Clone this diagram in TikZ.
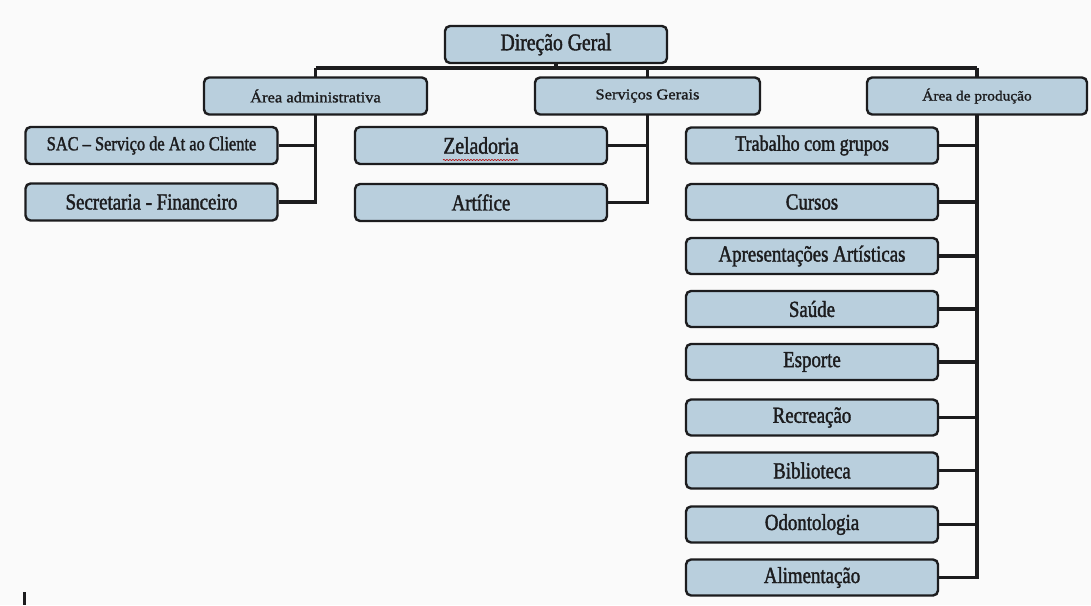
\documentclass[tikz,border=0pt]{standalone}
\usepackage{fontspec}
\setmainfont{Liberation Serif}
\newfontfamily\condfont[FakeStretch=0.82,FakeBold=1.6]{Liberation Serif}
\newfontfamily\widefont[FakeStretch=1.1,FakeBold=1.4]{Liberation Serif}
\usetikzlibrary{backgrounds,decorations.pathmorphing}
\definecolor{boxblue}{RGB}{185,207,221}
\definecolor{inkline}{RGB}{28,28,30}
\definecolor{paper}{RGB}{250,250,250}
\tikzset{
  orgbox/.style={draw=inkline, line width=2.4pt, rounded corners=5pt, fill=boxblue,
    inner sep=0pt, minimum height=37pt, text=inkline, font=\condfont\fontsize{23}{23}\selectfont},
  wide/.style={orgbox, minimum width=252pt},
  mid/.style={orgbox, minimum width=223pt},
  small/.style={font=\widefont\fontsize{15}{15}\selectfont},
  conn/.style={draw=inkline, line width=3.2pt},
}
\begin{document}
\begin{tikzpicture}[x=1pt,y=-1pt]
\useasboundingbox (0,0) rectangle (1091,605);
% level 1 and 2
\node[mid, minimum width=222pt, font=\condfont\fontsize{24}{24}\selectfont] (dg) at (556,44.5) {Direção Geral};
\node[mid, small] (aa) at (315.5,96) {Área administrativa};
\node[mid, small, minimum width=225pt] (sg) at (647.5,96) {Serviços Gerais};
\node[mid, small, minimum width=220pt, font=\widefont\fontsize{14}{14}\selectfont] (ap) at (977,96) {Área de produção};
% left groups
\node[wide, font=\condfont\fontsize{20}{20}\selectfont] (sac) at (151.5,145.5) {SAC – Serviço de At ao Cliente};
\node[wide] (sec) at (151.5,202) {Secretaria - Financeiro};
\node[wide, font=\condfont\fontsize{24}{24}\selectfont] (zel) at (481,145.5) {Zeladoria};
\node[wide] (art) at (481,202.5) {Artífice};
% production column
\node[wide, minimum height=36pt, font=\condfont\fontsize{22}{22}\selectfont] (p1) at (812,145.5) {Trabalho com grupos};
\node[wide, minimum height=36pt] (p2) at (812,202) {Cursos};
\node[wide, minimum height=36pt] (p3) at (812,256) {Apresentações Artísticas};
\node[wide, minimum height=36pt] (p4) at (812,309) {Saúde};
\node[wide, minimum height=36pt] (p5) at (812,362) {Esporte};
\node[wide, minimum height=36pt] (p6) at (812,417.5) {Recreação};
\node[wide, minimum height=36pt] (p7) at (812,470.5) {Biblioteca};
\node[wide, minimum height=36pt] (p8) at (812,524.5) {Odontologia};
\node[wide, minimum height=36pt] (p9) at (812,577.5) {Alimentação};
\coordinate (bus) at (0,68);
\begin{scope}[on background layer]
  \fill[paper] (0,0) rectangle (1091,605);
  \draw[conn] (dg.south) -- (dg.south |- bus);
  \draw[conn] (aa.center |- bus) -- (ap.center |- bus);
  \draw[conn] (aa.center |- bus) -- (aa.center |- sec.east) -- (sec.east);
  \draw[conn] (sac.east) -- (sac.east -| aa.center);
  \draw[conn] (sg.center |- bus) -- (sg.center |- art.east) -- (art.east);
  \draw[conn] (zel.east) -- (zel.east -| sg.center);
  \draw[conn] (ap.center |- bus) -- (ap.center |- p9.east) -- (p9.east);
  \foreach \n in {p1,p2,p3,p4,p5,p6,p7,p8}
    \draw[conn] (\n.east) -- (\n.east -| ap.center);
\end{scope}
% spell-check squiggle under Zeladoria
\draw[red!70!black, line width=0.6pt, decorate, decoration={snake, amplitude=0.6pt, segment length=3pt}] (443,160) -- (518,160);
% stray mark at lower left
\draw[inkline, line width=3pt] (24,592) -- (24,605);
\end{tikzpicture}
\end{document}
